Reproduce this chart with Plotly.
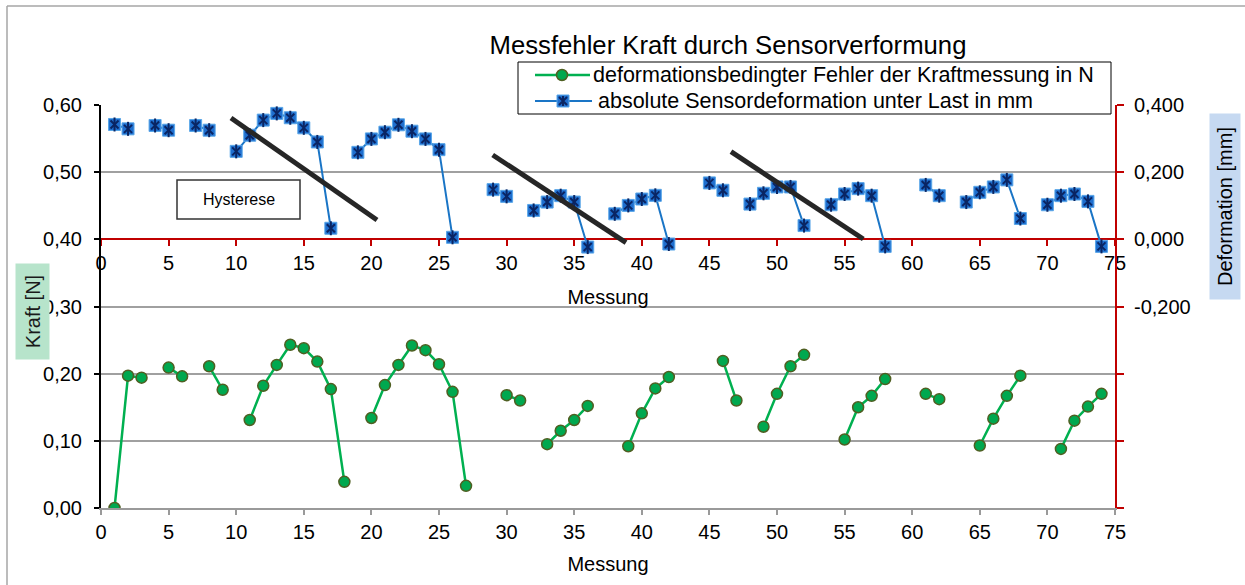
import plotly.graph_objects as go

# Messung 1..74
messung = list(range(1, 75))

# deformationsbedingter Fehler der Kraftmessung in N (linke Achse)
kraft_fehler = [
    0.000, 0.197, 0.194, None, 0.209, 0.196, None, 0.211, 0.176, None,
    0.131, 0.182, 0.213, 0.243, 0.238, 0.218, 0.177, 0.039, None, 0.134,
    0.183, 0.213, 0.242, 0.235, 0.214, 0.173, 0.033, None, None, 0.168,
    0.160, None, 0.095, 0.115, 0.131, 0.152, None, None, 0.092, 0.141,
    0.178, 0.195, None, None, None, 0.219, 0.160, None, 0.121, 0.170,
    0.211, 0.228, None, None, 0.102, 0.150, 0.167, 0.192, None, None,
    0.170, 0.162, None, None, 0.093, 0.133, 0.167, 0.197, None, None,
    0.088, 0.130, 0.151, 0.170,
]

# absolute Sensordeformation unter Last in mm (rechte Achse)
deformation = [
    0.342, 0.329, None, 0.339, 0.325, None, 0.339, 0.325, None, 0.262,
    0.310, 0.355, 0.375, 0.362, 0.332, 0.290, 0.033, None, 0.259, 0.299,
    0.319, 0.341, 0.322, 0.299, 0.267, 0.006, None, None, 0.148, 0.128,
    None, 0.086, 0.111, 0.130, 0.111, -0.023, None, 0.076, 0.101, 0.120,
    0.131, -0.014, None, None, 0.168, 0.146, None, 0.105, 0.137, 0.156,
    0.156, 0.041, None, 0.103, 0.135, 0.151, 0.130, -0.021, None, None,
    0.162, 0.130, None, 0.111, 0.140, 0.156, 0.177, 0.062, None, 0.103,
    0.130, 0.135, 0.113, -0.021,
]

x_ticks = [0, 5, 10, 15, 20, 25, 30, 35, 40, 45, 50, 55, 60, 65, 70, 75]
x_labels = [str(v) for v in x_ticks]

kraft_ticks = [0.0, 0.1, 0.2, 0.3, 0.4, 0.5, 0.6]
kraft_labels = ["0,00", "0,10", "0,20", "0,30", "0,40", "0,50", "0,60"]

deform_ticks = [-0.8, -0.6, -0.4, -0.2, 0.0, 0.2, 0.4]
deform_labels = ["", "", "", "-0,200", "0,000", "0,200", "0,400"]

name_kraft = "deformationsbedingter Fehler der Kraftmessung in N"
name_deform = "absolute Sensordeformation unter Last in mm"

FONT = "Liberation Sans, Arial, sans-serif"
W, H = 1245, 585
ML, MR, MT, MB = 101, 130, 105, 77
PW, PH = W - ML - MR, H - MT - MB

GREEN_LINE, GREEN_FILL, GREEN_EDGE = "#00b050", "#00a84f", "#4f5f22"
BLUE_LINE, BLUE_FILL, BLUE_EDGE, BLUE_STAR = "#1a75c6", "#1f6fcf", "#5aa7e8", "#0a2563"
RED = "#c00000"


def px(x):
    return (x - ML) / PW


def py(y):
    return (H - MB - y) / PH


fig = go.Figure()

fig.add_trace(go.Scatter(
    x=messung, y=kraft_fehler, name=name_kraft,
    mode="lines+markers",
    line=dict(color=GREEN_LINE, width=2.5),
    marker=dict(symbol="circle", size=11, color=GREEN_FILL,
                line=dict(color=GREEN_EDGE, width=1.5)),
    connectgaps=False, xaxis="x", yaxis="y", showlegend=False,
))

fig.add_trace(go.Scatter(
    x=messung, y=deformation, name=name_deform,
    mode="lines+markers",
    line=dict(color=BLUE_LINE, width=2),
    marker=dict(symbol="square", size=12, color=BLUE_FILL,
                line=dict(color=BLUE_EDGE, width=1)),
    connectgaps=False, xaxis="x2", yaxis="y2", showlegend=False,
))

# Sternsymbol (X + senkrechter Strich) auf den Quadraten
for sym, sz in (("x-thin-open", 8), ("line-ns-open", 10)):
    fig.add_trace(go.Scatter(
        x=messung, y=deformation, mode="markers",
        marker=dict(symbol=sym, size=sz, color=BLUE_STAR,
                    line=dict(color=BLUE_STAR, width=2)),
        showlegend=False, hoverinfo="skip", xaxis="x2", yaxis="y2",
    ))

tickfont = dict(family=FONT, size=20, color="black")

fig.update_layout(
    width=W, height=H,
    margin=dict(l=ML, r=MR, t=MT, b=MB),
    paper_bgcolor="white", plot_bgcolor="white",
    font=dict(family=FONT, size=20, color="black"),
    showlegend=False,
    title=dict(text="Messfehler Kraft durch Sensorverformung",
               font=dict(family=FONT, size=25.7, color="black"),
               x=728 / W, xref="container", xanchor="center",
               y=1 - 45 / H, yref="container", yanchor="middle"),
    xaxis=dict(range=[0, 75], tickvals=x_ticks, ticktext=x_labels,
               showline=True, linecolor="#9a9a9a", linewidth=2,
               ticks="outside", tickcolor="#9a9a9a", tickwidth=2, ticklen=5,
               showgrid=False, zeroline=False, tickfont=tickfont,
               title=dict(text="Messung", font=tickfont, standoff=15)),
    xaxis2=dict(range=[0, 75], tickvals=x_ticks, ticktext=x_labels,
                overlaying="x", anchor="free", position=2 / 3, side="bottom",
                showline=True, linecolor=RED, linewidth=2,
                ticks="outside", tickcolor=RED, tickwidth=2, ticklen=6,
                showgrid=False, zeroline=False, tickfont=tickfont,
                layer="below traces",
                title=dict(text="Messung", font=tickfont, standoff=16)),
    yaxis=dict(range=[0, 0.6], tickvals=kraft_ticks, ticktext=kraft_labels,
               showline=True, linecolor="black", linewidth=2,
               ticks="outside", tickcolor="black", tickwidth=2, ticklen=5,
               ticklabelstandoff=8,
               showgrid=True, gridcolor="#a0a0a0", gridwidth=2,
               zeroline=False, tickfont=tickfont),
    yaxis2=dict(range=[-0.8, 0.4], tickvals=deform_ticks, ticktext=deform_labels,
                overlaying="y", side="right", anchor="x2",
                showline=True, linecolor=RED, linewidth=2,
                ticks="outside", tickcolor=RED, tickwidth=2, ticklen=7,
                ticklabelstandoff=6,
                showgrid=False, zeroline=False, tickfont=tickfont),
)

line_style = dict(color="#262626", width=5)


def pix_shape(kind, cx, cy, r, **kw):
    # pixel-sized symbol anchored at a paper position
    return dict(type=kind, xref="paper", yref="paper",
                xsizemode="pixel", ysizemode="pixel",
                xanchor=px(cx), yanchor=py(cy),
                x0=-r, x1=r, y0=-r, y1=r, **kw)


shapes = [
    # Rahmen
    dict(type="line", xref="paper", yref="paper", x0=px(7), x1=px(W), y0=py(6), y1=py(6),
         line=dict(color="#a6a6a6", width=1.5)),
    dict(type="line", xref="paper", yref="paper", x0=px(7), x1=px(7), y0=py(6), y1=py(H),
         line=dict(color="#a6a6a6", width=1.5)),
    # Hysterese-Linien
    dict(type="line", xref="paper", yref="paper", x0=px(231), y0=py(118), x1=px(377), y1=py(220),
         line=line_style),
    dict(type="line", xref="paper", yref="paper", x0=px(492.7), y0=py(155), x1=px(626), y1=py(242.7),
         line=line_style),
    dict(type="line", xref="paper", yref="paper", x0=px(731), y0=py(151.7), x1=px(863.3), y1=py(239),
         line=line_style),
    # Hysterese-Kasten
    dict(type="rect", xref="paper", yref="paper", x0=px(177), x1=px(300), y0=py(219), y1=py(180),
         line=dict(color="#333333", width=1.5), fillcolor="white"),
    # Legende
    dict(type="rect", xref="paper", yref="paper", x0=px(518), x1=px(1111), y0=py(114), y1=py(62),
         line=dict(color="black", width=1), fillcolor="white"),
    dict(type="line", xref="paper", yref="paper", x0=px(535), x1=px(590), y0=py(75), y1=py(75),
         line=dict(color=GREEN_LINE, width=2.5)),
    pix_shape("circle", 562, 75, 5.5, fillcolor=GREEN_FILL, line=dict(color=GREEN_EDGE, width=1.5)),
    dict(type="line", xref="paper", yref="paper", x0=px(535), x1=px(592), y0=py(101), y1=py(101),
         line=dict(color=BLUE_LINE, width=2)),
    pix_shape("rect", 563, 101, 6, fillcolor=BLUE_FILL, line=dict(color=BLUE_EDGE, width=1)),
    dict(type="path", xref="paper", yref="paper", xsizemode="pixel", ysizemode="pixel",
         xanchor=px(563), yanchor=py(101),
         path="M-4,-4L4,4M-4,4L4,-4M0,-5L0,5", line=dict(color=BLUE_STAR, width=2)),
]
fig.update_layout(shapes=shapes)

fig.update_layout(annotations=[
    dict(text=name_kraft, xref="paper", yref="paper", x=px(591), y=py(75),
         xanchor="left", yanchor="middle", showarrow=False,
         font=dict(family=FONT, size=21.5, color="black")),
    dict(text=name_deform, xref="paper", yref="paper", x=px(596), y=py(101),
         xanchor="left", yanchor="middle", showarrow=False,
         font=dict(family=FONT, size=21.5, color="black")),
    dict(text="Hysterese", xref="paper", yref="paper", x=px(238.5), y=py(199.5),
         xanchor="center", yanchor="middle",
         showarrow=False, font=dict(family=FONT, size=16, color="black")),
    dict(text="Kraft [N]", xref="paper", yref="paper", x=px(32), y=py(312),
         xanchor="center", yanchor="middle",
         showarrow=False, textangle=-90, bgcolor="#b7e4cb", width=95, height=33,
         borderpad=0, font=dict(family=FONT, size=20, color="#1a1a1a")),
    dict(text="Deformation [mm]", xref="paper", yref="paper", x=px(1225), y=py(207),
         xanchor="center", yanchor="middle",
         showarrow=False, textangle=-90, bgcolor="#c6d9f1", width=185, height=30,
         borderpad=0, font=dict(family=FONT, size=20, color="black")),
])

fig.write_html("out.html")
